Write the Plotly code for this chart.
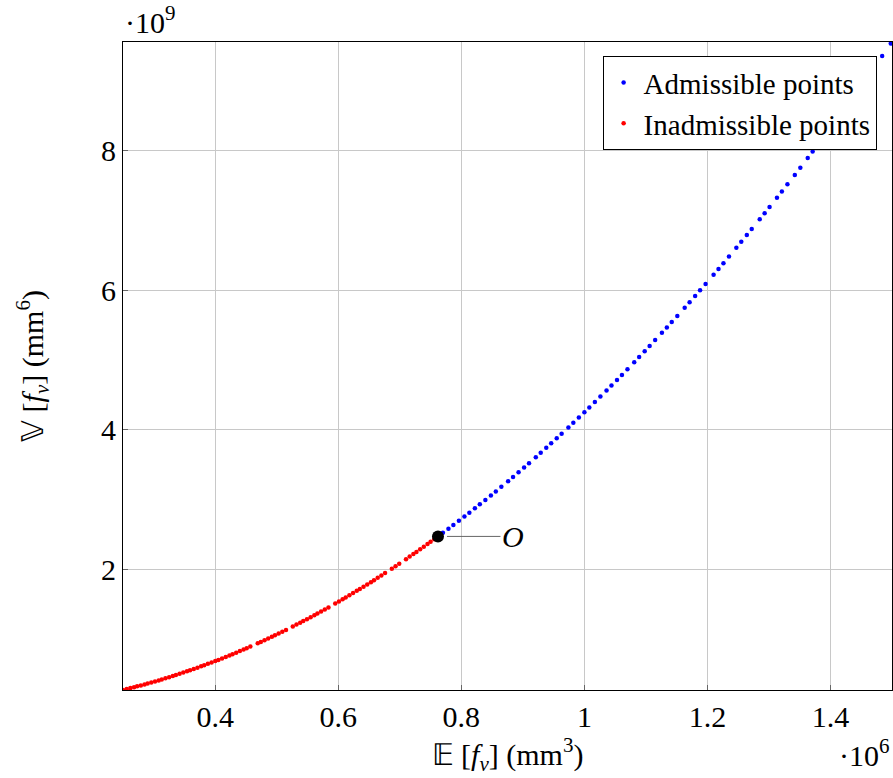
import plotly.graph_objects as go

# E[f_v] in 1e6 mm^3, V[f_v] in 1e9 mm^6
inadm_E = [0.250, 0.256, 0.262, 0.268, 0.273, 0.279, 0.285, 0.290, 0.296, 0.302,
           0.308, 0.313, 0.319, 0.325, 0.331, 0.336, 0.342, 0.348, 0.354, 0.359,
           0.365, 0.371, 0.377, 0.382, 0.388, 0.394, 0.400, 0.405, 0.411, 0.417,
           0.423, 0.428, 0.434, 0.440, 0.446, 0.451, 0.457, 0.469, 0.474, 0.480,
           0.486, 0.492, 0.497, 0.503, 0.509, 0.515, 0.526, 0.532, 0.538, 0.543,
           0.549, 0.555, 0.561, 0.566, 0.572, 0.578, 0.584, 0.595, 0.601, 0.607,
           0.612, 0.618, 0.624, 0.630, 0.635, 0.641, 0.647, 0.653, 0.658, 0.664,
           0.670, 0.676, 0.687, 0.693, 0.699, 0.710, 0.716, 0.722, 0.727, 0.733,
           0.739, 0.745, 0.750, 0.756]
inadm_V = [0.266, 0.279, 0.292, 0.305, 0.317, 0.331, 0.345, 0.357, 0.372, 0.388,
           0.403, 0.416, 0.432, 0.449, 0.466, 0.480, 0.497, 0.515, 0.533, 0.548,
           0.566, 0.585, 0.604, 0.620, 0.640, 0.660, 0.680, 0.697, 0.718, 0.739,
           0.760, 0.779, 0.801, 0.823, 0.845, 0.864, 0.888, 0.935, 0.955, 0.979,
           1.004, 1.029, 1.050, 1.075, 1.101, 1.127, 1.176, 1.203, 1.230, 1.253,
           1.281, 1.309, 1.338, 1.362, 1.391, 1.420, 1.449, 1.505, 1.535, 1.566,
           1.592, 1.623, 1.655, 1.687, 1.714, 1.746, 1.779, 1.812, 1.840, 1.874,
           1.908, 1.942, 2.006, 2.041, 2.077, 2.142, 2.179, 2.215, 2.246, 2.284,
           2.321, 2.359, 2.391, 2.429]

adm_E = [0.770, 0.779, 0.787, 0.796, 0.805, 0.813, 0.822, 0.830, 0.839, 0.848,
         0.856, 0.865, 0.876, 0.884, 0.893, 0.902, 0.910, 0.921, 0.929, 0.938,
         0.946, 0.955, 0.963, 0.974, 0.982, 0.991, 1.000, 1.008, 1.017, 1.026,
         1.036, 1.044, 1.053, 1.061, 1.070, 1.081, 1.089, 1.098, 1.106, 1.115,
         1.126, 1.134, 1.142, 1.151, 1.163, 1.171, 1.180, 1.188, 1.197, 1.210,
         1.218, 1.226, 1.235, 1.247, 1.255, 1.264, 1.272, 1.285, 1.293, 1.301,
         1.313, 1.321, 1.330, 1.342, 1.351, 1.363, 1.371, 1.382, 1.393, 1.402,
         1.412, 1.424, 1.436, 1.447, 1.459, 1.471, 1.484, 1.498]
adm_V = [2.520, 2.579, 2.632, 2.693, 2.754, 2.809, 2.872, 2.928, 2.992, 3.056,
         3.114, 3.180, 3.261, 3.321, 3.389, 3.458, 3.519, 3.605, 3.668, 3.739,
         3.803, 3.876, 3.941, 4.032, 4.098, 4.174, 4.250, 4.318, 4.396, 4.474,
         4.561, 4.632, 4.712, 4.784, 4.866, 4.966, 5.040, 5.124, 5.199, 5.284,
         5.388, 5.465, 5.543, 5.630, 5.748, 5.828, 5.918, 5.998, 6.089, 6.222,
         6.305, 6.388, 6.482, 6.609, 6.694, 6.790, 6.876, 7.018, 7.105, 7.194,
         7.327, 7.416, 7.518, 7.654, 7.757, 7.896, 7.988, 8.117, 8.247, 8.354,
         8.473, 8.618, 8.764, 8.899, 9.047, 9.196, 9.360, 9.537]

O_E = [0.762]
O_V = [2.468]

x_ticks = [0.4, 0.6, 0.8, 1.0, 1.2, 1.4]
x_ticktext = ['0.4', '0.6', '0.8', '1', '1.2', '1.4']
y_ticks = [2, 4, 6, 8]

FONT = 'Liberation Serif, Times New Roman, serif'
FS = 30

fig = go.Figure()

fig.add_trace(go.Scatter(
    x=adm_E, y=adm_V, mode='markers', name='Admissible points',
    marker=dict(color='#0000ff', size=4.5)))
fig.add_trace(go.Scatter(
    x=inadm_E, y=inadm_V, mode='markers', name='Inadmissible points',
    marker=dict(color='#ff0000', size=4.5)))
fig.add_trace(go.Scatter(
    x=O_E, y=O_V, mode='markers', showlegend=False,
    marker=dict(color='black', size=12)))

fig.add_annotation(x=O_E[0], y=O_V[0], text='<i>O</i>', showarrow=True,
                   ax=75, ay=0, arrowhead=0, arrowwidth=1, arrowcolor='#666666',
                   standoff=9, font=dict(size=FS, family=FONT, color='black'))

# axis multipliers
fig.add_annotation(x=0, y=1, xref='paper', yref='paper', xanchor='left', yanchor='bottom',
                   yshift=1, showarrow=False, text='·10<sup>9</sup>',
                   font=dict(size=FS, family=FONT, color='black'))
fig.add_annotation(x=1, y=0, xref='paper', yref='paper', xanchor='right', yanchor='top',
                   yshift=-42, showarrow=False, text='·10<sup>6</sup>',
                   font=dict(size=FS, family=FONT, color='black'))

axis_common = dict(showline=True, linecolor='black', linewidth=1, mirror=True,
                   showgrid=True, gridcolor='#c8c8c8', gridwidth=1,
                   ticks='inside', ticklen=5, tickcolor='#666666',
                   zeroline=False, tickfont=dict(size=FS, family=FONT, color='black'))

fig.update_xaxes(range=[0.25, 1.5], tickvals=x_ticks, ticktext=x_ticktext,
                 title=dict(text='𝔼 [<i>f<sub>v</sub></i>] (mm<sup>3</sup>)',
                            font=dict(size=FS, family=FONT, color='black'), standoff=6),
                 **axis_common)
fig.update_yaxes(range=[0.265, 9.56], tickvals=y_ticks,
                 title=dict(text='𝕍 [<i>f<sub>v</sub></i>] (mm<sup>6</sup>)',
                            font=dict(size=FS, family=FONT, color='black'), standoff=48),
                 **axis_common)

fig.update_layout(
    width=893, height=778,
    margin=dict(l=123, r=1, t=42, b=88, autoexpand=False),
    plot_bgcolor='white', paper_bgcolor='white',
    legend=dict(x=0.98, y=0.978, xanchor='right', yanchor='top',
                bgcolor='white', bordercolor='black', borderwidth=1,
                font=dict(size=29, family=FONT, color='black'),
                itemwidth=30, tracegroupgap=0),
)

fig.write_html('out.html', config={'responsive': False, 'displayModeBar': False},
               post_script="document.body.style.margin='0px';"
                           "Plotly.relayout(document.getElementById('{plot_id}'), {width: 893, height: 778});")
